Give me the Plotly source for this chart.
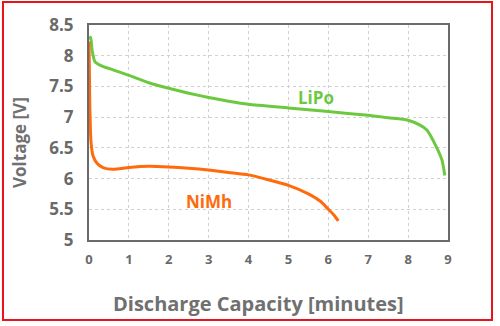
import plotly.graph_objects as go

lipo_x = [0, 0.04, 0.08, 0.15, 0.3, 0.6, 1.0, 1.5, 2.0, 2.5, 3.0, 3.5, 4.0, 5.0, 6.0, 7.0, 7.5, 8.0, 8.3, 8.47, 8.72, 8.85, 8.92]
lipo_y = [8.27, 8.3, 8.08, 7.9, 7.84, 7.77, 7.68, 7.56, 7.47, 7.39, 7.32, 7.26, 7.21, 7.15, 7.09, 7.03, 6.99, 6.95, 6.87, 6.79, 6.5, 6.3, 6.05]

nimh_x = [0, 0.02, 0.05, 0.1, 0.2, 0.35, 0.6, 1.0, 1.5, 2.0, 2.5, 3.0, 3.5, 4.0, 4.5, 5.0, 5.5, 5.8, 6.0, 6.15, 6.25]
nimh_y = [8.23, 7.2, 6.6, 6.37, 6.25, 6.18, 6.15, 6.18, 6.2, 6.19, 6.17, 6.14, 6.1, 6.06, 5.98, 5.89, 5.75, 5.63, 5.5, 5.4, 5.31]

x_ticks = [0, 1, 2, 3, 4, 5, 6, 7, 8, 9]
y_ticks = [5, 5.5, 6, 6.5, 7, 7.5, 8, 8.5]
y_ticklabels = ["5", "5.5", "6", "6.5", "7", "7.5", "8", "8.5"]

GREEN = "#6cc93f"
ORANGE = "#ff6a0d"
FONT = "Open Sans"
TITLE_COLOR = "#707070"

fig = go.Figure()
fig.add_trace(go.Scatter(x=lipo_x, y=lipo_y, mode="lines",
                         line=dict(color=GREEN, width=3, shape="spline", smoothing=0.6),
                         showlegend=False, hoverinfo="skip"))
fig.add_trace(go.Scatter(x=nimh_x, y=nimh_y, mode="lines",
                         line=dict(color=ORANGE, width=3, shape="spline", smoothing=0.6),
                         showlegend=False, hoverinfo="skip"))

fig.add_annotation(x=5.7, y=7.32, text="<b>LiPo</b>", showarrow=False,
                   font=dict(family=FONT, size=17, color=GREEN))
fig.add_annotation(x=3.0, y=5.62, text="<b>NiMh</b>", showarrow=False,
                   font=dict(family=FONT, size=17, color=ORANGE))

# axis titles (positioned as in the reference)
fig.add_annotation(xref="paper", yref="paper", x=(258 - 89) / 359, y=(240 - 303) / 215,
                   text="<b>Discharge Capacity [minutes]</b>", showarrow=False,
                   xanchor="center", yanchor="middle",
                   font=dict(family=FONT, size=20, color=TITLE_COLOR))
fig.add_annotation(xref="paper", yref="paper", x=(19 - 89) / 359, y=(240 - 143) / 215,
                   text="<b>Voltage [V]</b>", showarrow=False, textangle=-90,
                   xanchor="center", yanchor="middle",
                   font=dict(family=FONT, size=17, color=TITLE_COLOR))

# red outer border
fig.add_shape(type="rect", xref="paper", yref="paper",
              x0=-0.2396, x1=1.1226, y0=-0.372, y1=1.107,
              line=dict(color="#e8141c", width=2), layer="above")

fig.update_layout(
    width=500, height=326,
    margin=dict(l=89, r=52, t=25, b=86),
    paper_bgcolor="white", plot_bgcolor="white",
    font=dict(family=FONT, color="#666666"),
    xaxis=dict(range=[0, 9], tickvals=x_ticks, ticktext=[str(v) for v in x_ticks],
               showgrid=True, gridcolor="#d0d0d0", griddash="dot", gridwidth=1,
               showline=True, linecolor="#6a6a6a", linewidth=2, mirror=True,
               zeroline=False, ticks="", ticklabelstandoff=6,
               tickfont=dict(family=FONT, size=13, color="#6a6a6a", weight="bold")),
    yaxis=dict(range=[5, 8.5], tickvals=y_ticks, ticktext=y_ticklabels,
               showgrid=True, gridcolor="#d0d0d0", griddash="dot", gridwidth=1,
               showline=True, linecolor="#6a6a6a", linewidth=2, mirror=True,
               zeroline=False, ticks="", ticklabelstandoff=10,
               tickfont=dict(family=FONT, size=17, color="#6a6a6a", weight="bold")),
)

fig.write_html("out.html")
